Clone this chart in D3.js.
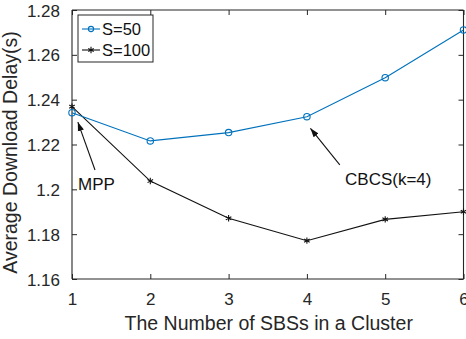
<!DOCTYPE html>
<meta charset="utf-8">
<style>
body{margin:0;background:white;}
svg{display:block;font-family:"Liberation Sans",Arial,sans-serif;}
.tick text{fill:#262626;}
</style>
<body>
<script src="https://d3js.org/d3.v7.min.js"></script>
<script>
// chart values
var clusterSizes = [1, 2, 3, 4, 5, 6];
var delayS50  = [1.2342, 1.2216, 1.2253, 1.2324, 1.2498, 1.2711];
var delayS100 = [1.2369, 1.2037, 1.1871, 1.1771, 1.1866, 1.1900];
var yTicks = [1.16, 1.18, 1.2, 1.22, 1.24, 1.26, 1.28];
var yTickLabels = ["1.16", "1.18", "1.2", "1.22", "1.24", "1.26", "1.28"];
var seriesNames = ["S=50", "S=100"];
// annotations: [label, text pos, arrow tail, arrow head] in data units
var notes = [
  ["MPP", [1.077, 1.1997], [1.294, 1.2086], [1.075, 1.2300]],
  ["CBCS(k=4)", [4.487, 1.2019], [4.42, 1.2109], [4.045, 1.2272]]
];

var W = 466, H = 339;
var m = {left: 72, right: 2.5, top: 10, bottom: 60};
var axisCol = "#262626";

var svg = d3.select("body").append("svg").attr("width", W).attr("height", H);

var x = d3.scaleLinear().domain([1, 6]).range([m.left, W - m.right]);
var y = d3.scaleLinear().domain([1.16, 1.28]).range([H - m.bottom, m.top]);

svg.append("defs").append("marker")
  .attr("id", "head").attr("viewBox", "0 0 10 10")
  .attr("refX", 10).attr("refY", 5)
  .attr("markerWidth", 9).attr("markerHeight", 9)
  .attr("markerUnits", "userSpaceOnUse")
  .attr("orient", "auto")
  .append("path").attr("d", "M0,1.5L10,5L0,8.5Z").attr("fill", "#111");

// axes (MATLAB-like: ticks inward, box on)
var tl = 5;
var xb = svg.append("g").attr("transform", "translate(0," + y.range()[0] + ")")
  .call(d3.axisBottom(x).tickValues(clusterSizes).tickFormat(d3.format("d")).tickSize(-tl).tickPadding(14));
var xt = svg.append("g").attr("transform", "translate(0," + m.top + ")")
  .call(d3.axisTop(x).tickValues(clusterSizes).tickSize(-tl).tickFormat(""));
var yl = svg.append("g").attr("transform", "translate(" + m.left + ",0)")
  .call(d3.axisLeft(y).tickValues(yTicks).tickFormat(function(d, i){ return yTickLabels[i]; }).tickSize(-tl).tickPadding(12));
var yr = svg.append("g").attr("transform", "translate(" + x.range()[1] + ",0)")
  .call(d3.axisRight(y).tickValues(yTicks).tickSize(-tl).tickFormat(""));

[xb, xt, yl, yr].forEach(function(g){
  g.select(".domain").attr("stroke", axisCol).attr("stroke-width", 1.1);
  g.selectAll(".tick line").attr("stroke", axisCol);
  g.selectAll(".tick text").attr("font-size", "17px").attr("font-family", "Liberation Sans, Arial, sans-serif");
});
xb.select(".domain").attr("d", "M" + x.range()[0] + ",0H" + x.range()[1]);
xt.select(".domain").attr("d", "M" + x.range()[0] + ",0H" + x.range()[1]);
yl.select(".domain").attr("d", "M0," + y.range()[0] + "V" + y.range()[1]);
yr.select(".domain").attr("d", "M0," + y.range()[0] + "V" + y.range()[1]);
yl.selectAll(".tick text").attr("dy", "0.36em");

// labels
svg.append("text").attr("x", (x.range()[0] + x.range()[1]) / 2 + 1).attr("y", 330)
  .attr("text-anchor", "middle").attr("font-size", "19.5px").attr("fill", axisCol)
  .text("The Number of SBSs in a Cluster");
svg.append("text").attr("transform", "translate(17," + ((y.range()[0] + y.range()[1]) / 2 + 8) + ") rotate(-90)")
  .attr("text-anchor", "middle").attr("font-size", "19.5px").attr("fill", axisCol)
  .text("Average Download Delay(s)");

var line = d3.line().x(function(d){ return x(d[0]); }).y(function(d){ return y(d[1]); });
var s50 = clusterSizes.map(function(c, i){ return [c, delayS50[i]]; });
var s100 = clusterSizes.map(function(c, i){ return [c, delayS100[i]]; });

svg.append("path").datum(s100).attr("d", line).attr("fill", "none").attr("stroke", "#111").attr("stroke-width", 1.1);
svg.append("path").datum(s50).attr("d", line).attr("fill", "none").attr("stroke", "#0072BD").attr("stroke-width", 1.1);

var star = d3.symbol().type(d3.symbolAsterisk).size(28);
svg.selectAll(".p100").data(s100).enter().append("path")
  .attr("transform", function(d){ return "translate(" + x(d[0]) + "," + y(d[1]) + ")"; })
  .attr("d", star).attr("fill", "none").attr("stroke", "#111").attr("stroke-width", 1.1);
svg.selectAll(".p50").data(s50).enter().append("circle")
  .attr("cx", function(d){ return x(d[0]); }).attr("cy", function(d){ return y(d[1]); })
  .attr("r", 3.2).attr("fill", "none").attr("stroke", "#0072BD").attr("stroke-width", 1.1);

// annotations
notes.forEach(function(n){
  svg.append("line")
    .attr("x1", x(n[2][0])).attr("y1", y(n[2][1]))
    .attr("x2", x(n[3][0])).attr("y2", y(n[3][1]))
    .attr("stroke", "#111").attr("stroke-width", 1.1).attr("marker-end", "url(#head)");
  svg.append("text").attr("x", x(n[1][0])).attr("y", y(n[1][1]))
    .attr("font-size", "17px").attr("fill", "#111").text(n[0]);
});

// legend
var lg = svg.append("g");
lg.append("rect").attr("x", 78).attr("y", 15).attr("width", 75).attr("height", 47)
  .attr("fill", "white").attr("stroke", axisCol).attr("stroke-width", 1);
var legCols = ["#0072BD", "#111"];
seriesNames.forEach(function(name, i){
  var ly = 29 + i * 21;
  lg.append("line").attr("x1", 82).attr("x2", 100).attr("y1", ly).attr("y2", ly)
    .attr("stroke", legCols[i]).attr("stroke-width", 1.1);
  if (i === 0) {
    lg.append("circle").attr("cx", 91).attr("cy", ly).attr("r", 2.6)
      .attr("fill", "none").attr("stroke", legCols[i]).attr("stroke-width", 1.1);
  } else {
    lg.append("path").attr("transform", "translate(91," + ly + ")").attr("d", star)
      .attr("fill", "none").attr("stroke", legCols[i]).attr("stroke-width", 1.1);
  }
  lg.append("text").attr("x", 102).attr("y", ly).attr("dy", "0.36em")
    .attr("font-size", "16.5px").attr("fill", "#111").text(name);
});
</script>
</body>
